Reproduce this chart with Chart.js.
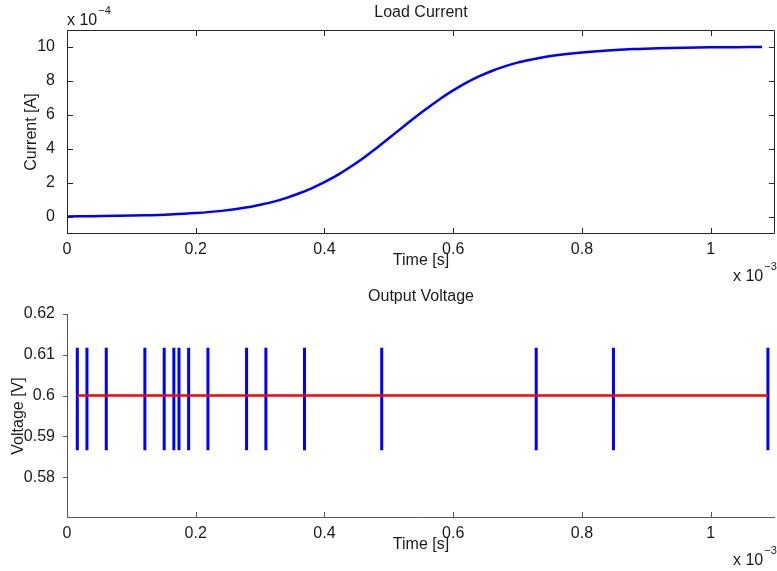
<!DOCTYPE html>
<html>
<head>
<meta charset="utf-8">
<script src="https://cdn.jsdelivr.net/npm/chart.js@4/dist/chart.umd.min.js"></script>
<style>
  html, body { margin: 0; padding: 0; background: #fff; }
  #wrap { position: relative; width: 777px; height: 571px; }
  .box { position: absolute; left: 0; width: 777px; }
</style>
</head>
<body>
<div id="wrap">
  <div class="box" style="top:0;height:285px"><canvas id="currentChart" width="777" height="285"></canvas></div>
  <div class="box" style="top:284px;height:287px"><canvas id="voltageChart" width="777" height="287"></canvas></div>
</div>
<script>
// time in units of 1e-3 s, current in units of 1e-4 A (as on the axes)
const currentTime = [0, 0.04, 0.08, 0.12, 0.16, 0.20, 0.24, 0.28, 0.30, 0.32, 0.34, 0.36, 0.38, 0.40,
  0.42, 0.44, 0.46, 0.48, 0.50, 0.52, 0.54, 0.56, 0.58, 0.60, 0.62, 0.64, 0.66, 0.68, 0.70,
  0.72, 0.74, 0.76, 0.80, 0.84, 0.88, 0.92, 0.96, 1.00, 1.04, 1.08];
const currentValue = [0.03, 0.05, 0.07, 0.10, 0.15, 0.23, 0.36, 0.57, 0.72, 0.89, 1.11, 1.38, 1.69, 2.05,
  2.46, 2.94, 3.46, 4.03, 4.63, 5.24, 5.84, 6.41, 6.96, 7.45, 7.89, 8.27, 8.59, 8.86, 9.08,
  9.25, 9.40, 9.51, 9.68, 9.80, 9.88, 9.93, 9.96, 9.98, 9.99, 10.0];

// output voltage spikes
const spikeTimes = [0.016, 0.031, 0.061, 0.121, 0.151, 0.166, 0.174, 0.189, 0.219,
  0.279, 0.309, 0.369, 0.489, 0.729, 0.849, 1.089];
const spikeLow = 0.5866;
const spikeHigh = 0.6117;
const refTime = [0.016, 1.089];
const refVoltage = [0.6, 0.6];

// ticks
const timeTicks = [0, 0.2, 0.4, 0.6, 0.8, 1];
const timeTickLabels = ['0', '0.2', '0.4', '0.6', '0.8', '1'];
const currentTicks = [0, 2, 4, 6, 8, 10];
const currentTickLabels = ['0', '2', '4', '6', '8', '10'];
const voltageTicks = [0.58, 0.59, 0.6, 0.61, 0.62];
const voltageTickLabels = ['0.58', '0.59', '0.6', '0.61', '0.62'];

const FONT = '"Liberation Sans", Arial, Helvetica, sans-serif';
const FS = 16;
const TEXT = '#1a1a1a';

// matlab-ish axes: inward ticks, optional box, exponent labels
const matlabAxes = {
  id: 'matlabAxes',
  afterDraw(chart, args, o) {
    const ctx = chart.ctx;
    const a = chart.chartArea;
    const xs = chart.scales.x, ys = chart.scales.y;
    ctx.save();
    ctx.strokeStyle = o.color;
    ctx.lineWidth = 1;
    ctx.beginPath();
    if (o.box) {
      ctx.rect(a.left + 0.5, a.top + 0.5, a.right - a.left - 1, a.bottom - a.top - 1);
    } else {
      ctx.moveTo(a.left + 0.5, a.top);
      ctx.lineTo(a.left + 0.5, a.bottom - 0.5);
      ctx.lineTo(a.right, a.bottom - 0.5);
    }
    xs.ticks.forEach(t => {
      const px = Math.round(xs.getPixelForValue(t.value)) + 0.5;
      ctx.moveTo(px, a.bottom); ctx.lineTo(px, a.bottom - 6);
      if (o.box) { ctx.moveTo(px, a.top); ctx.lineTo(px, a.top + 6); }
    });
    ys.ticks.forEach(t => {
      const py = Math.round(ys.getPixelForValue(t.value)) + 0.5;
      if (o.box) {
        ctx.moveTo(a.left, py); ctx.lineTo(a.left + 6, py);
        ctx.moveTo(a.right, py); ctx.lineTo(a.right - 6, py);
      } else {
        ctx.moveTo(a.left, py); ctx.lineTo(a.left - 4, py);
      }
    });
    ctx.stroke();

    ctx.fillStyle = TEXT;
    ctx.textBaseline = 'alphabetic';
    ctx.textAlign = 'left';
    const expo = (x, y, exp) => {
      ctx.font = FS + 'px ' + FONT;
      ctx.fillText('x 10', x, y);
      const w = ctx.measureText('x 10').width;
      ctx.font = '11px ' + FONT;
      ctx.fillText(exp, x + w + 1, y - 11);
    };
    if (o.yExp) expo(a.left, a.top - 5, o.yExp);
    if (o.xExp) expo(733, a.bottom + 47, o.xExp);
    ctx.restore();
  }
};

function timeScale(titlePadBottom, height) {
  return {
    type: 'linear', min: 0, max: 1.1,
    afterBuildTicks: s => { s.ticks = timeTicks.map(v => ({ value: v })); },
    afterFit: s => { s.height = height; },
    grid: { display: false }, border: { display: false },
    ticks: { color: TEXT, font: { family: FONT, size: FS }, padding: -2, maxRotation: 0,
             callback: (v, i) => timeTickLabels[i] },
    title: { display: true, text: 'Time [s]', color: TEXT, font: { family: FONT, size: FS },
             padding: { top: 0, bottom: titlePadBottom } }
  };
}

function valueScale(min, max, ticks, labels, title, titlePadTop) {
  return {
    type: 'linear', min, max,
    afterBuildTicks: s => { s.ticks = ticks.map(v => ({ value: v })); },
    afterFit: s => { s.width = 67; },
    grid: { display: false }, border: { display: false },
    ticks: { color: TEXT, font: { family: FONT, size: FS }, padding: 4,
             callback: (v, i) => labels[i] },
    title: { display: true, text: title, color: TEXT, font: { family: FONT, size: FS },
             padding: { top: titlePadTop, bottom: 0 } }
  };
}

function chartTitle(text) {
  return { display: true, fullSize: false, text, color: TEXT,
           font: { family: FONT, size: FS, weight: 'normal' },
           padding: { top: 2.9, bottom: 7.9 } };
}

new Chart(document.getElementById('currentChart'), {
  type: 'line',
  data: {
    datasets: [{
      data: currentTime.map((t, i) => ({ x: t, y: currentValue[i] })),
      borderColor: '#0000ff', borderWidth: 2.5, pointRadius: 0,
      cubicInterpolationMode: 'monotone'
    }]
  },
  options: {
    responsive: false, animation: false, devicePixelRatio: 1,
    layout: { padding: { left: 0, right: 2, top: 0, bottom: 0 } },
    plugins: {
      legend: { display: false }, tooltip: { enabled: false },
      title: chartTitle('Load Current'),
      matlabAxes: { box: true, color: '#262626', yExp: '\u22124', xExp: '\u22123' }
    },
    scales: {
      x: timeScale(14.4, 51),
      y: valueScale(-1, 11, currentTicks, currentTickLabels, 'Current [A]', 21.9)
    }
  },
  plugins: [matlabAxes]
});

const spikeData = [];
spikeTimes.forEach(t => {
  spikeData.push({ x: t, y: spikeLow }, { x: t, y: spikeHigh }, { x: t, y: null });
});

new Chart(document.getElementById('voltageChart'), {
  type: 'line',
  data: {
    datasets: [
      {
        data: refTime.map((t, i) => ({ x: t, y: refVoltage[i] })),
        borderColor: '#ff0000', borderWidth: 2.5, pointRadius: 0
      },
      {
        data: spikeData, spanGaps: false,
        borderColor: '#0000ff', borderWidth: 3, pointRadius: 0, borderCapStyle: 'butt'
      }
    ]
  },
  options: {
    responsive: false, animation: false, devicePixelRatio: 1,
    layout: { padding: { left: 0, right: 2, top: 0, bottom: 0 } },
    plugins: {
      legend: { display: false }, tooltip: { enabled: false },
      title: chartTitle('Output Voltage'),
      matlabAxes: { box: false, color: '#595959', xExp: '\u22123' }
    },
    scales: {
      x: timeScale(16.4, 53),
      y: valueScale(0.57, 0.62, voltageTicks, voltageTickLabels, 'Voltage [V]', 8.7)
    }
  },
  plugins: [matlabAxes]
});
</script>
</body>
</html>
